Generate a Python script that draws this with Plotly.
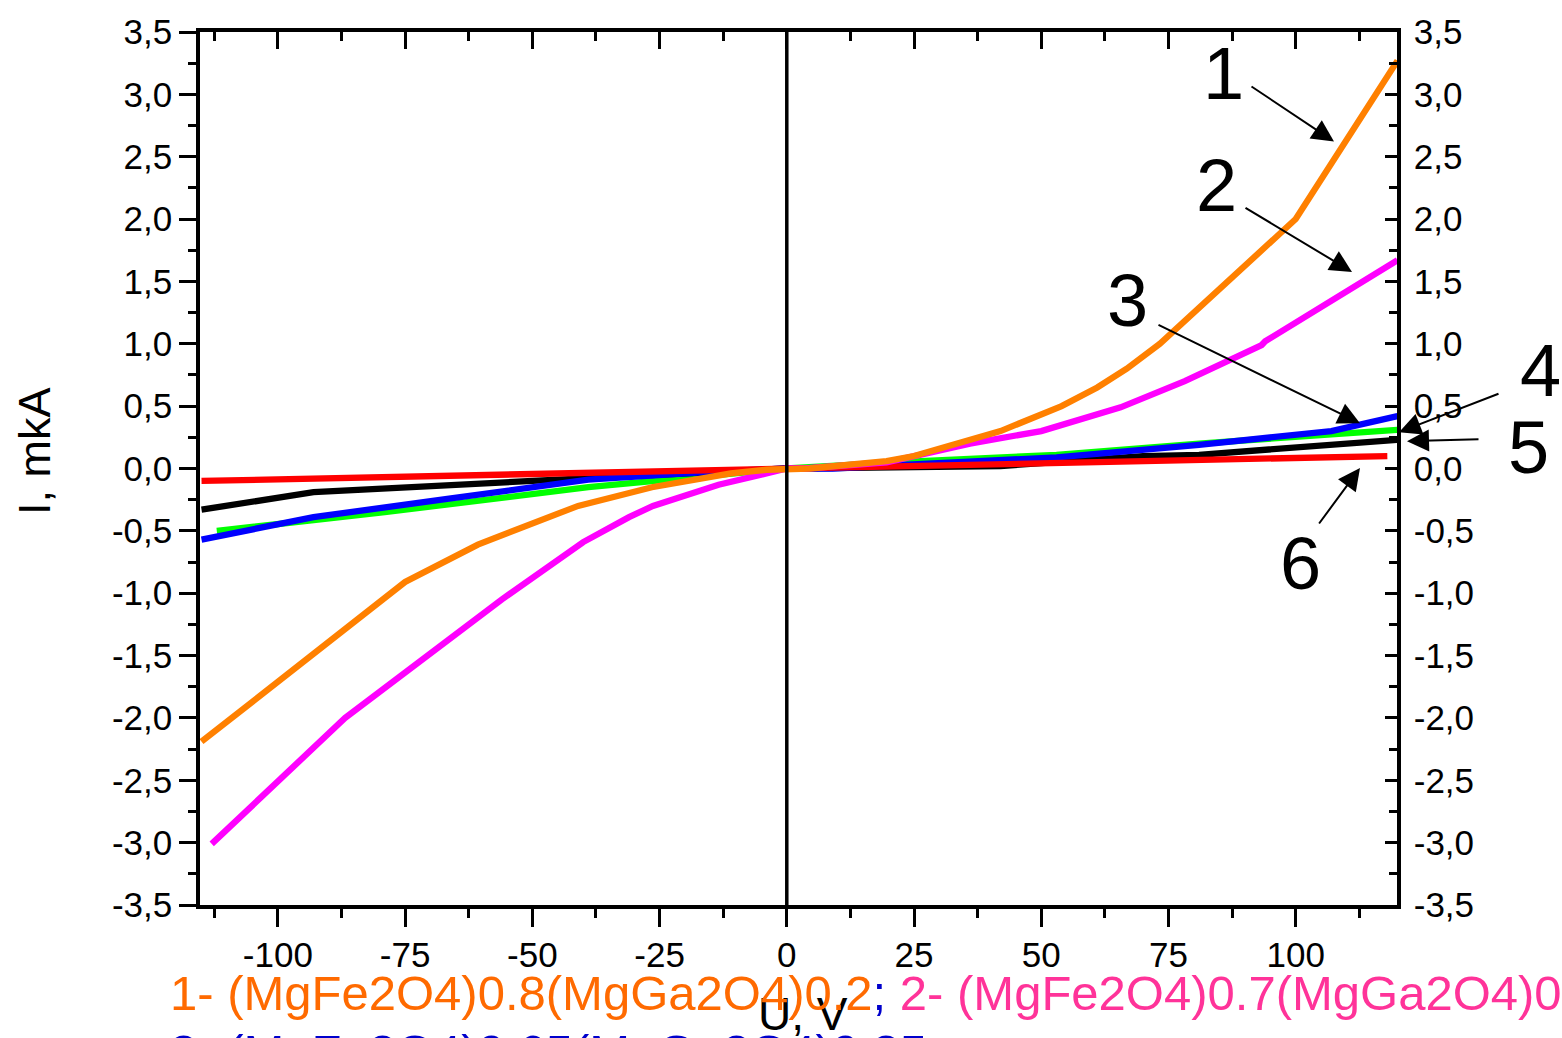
import plotly.graph_objects as go

# ---------------- data ----------------
u1 = [-115, -77.6, -75, -60.7, -41, -26.5, -11, -4, 0, 4.5, 19.6, 25, 42, 54, 61, 66.8, 73.3, 100, 120]
i1 = [-2.19, -1.0, -0.91, -0.61, -0.30, -0.15, -0.04, -0.01, 0, 0, 0.06, 0.10, 0.30, 0.50, 0.65, 0.80, 1.0, 2.0, 3.27]

u2 = [-113, -86.8, -56, -40, -31, -26.3, -13.4, -3, 0, 3.5, 19.6, 36, 50, 65.6, 78.2, 93.3, 94, 120]
i2 = [-3.01, -2.0, -1.05, -0.59, -0.39, -0.30, -0.13, -0.02, 0, 0, 0.05, 0.20, 0.30, 0.49, 0.70, 0.99, 1.02, 1.67]

u3 = [-115, -93, -66, -39, -16.7, 0, 9, 53, 81, 107, 120]
i3 = [-0.57, -0.39, -0.24, -0.09, -0.03, 0, 0, 0.09, 0.19, 0.30, 0.42]

u4 = [-112, -79, -39, -16.7, 0, 22, 42, 53, 81, 120]
i4 = [-0.50, -0.35, -0.15, -0.06, 0, 0.05, 0.09, 0.11, 0.20, 0.31]

u5 = [-115, -93, -50, 0, 42, 53, 70, 81, 120]
i5 = [-0.33, -0.19, -0.10, 0, 0.02, 0.05, 0.10, 0.11, 0.23]

u6 = [-115, 0, 42, 118]
i6 = [-0.10, 0, 0.03, 0.10]

x_tick_vals = [-100, -75, -50, -25, 0, 25, 50, 75, 100]
x_tick_text = ["-100", "-75", "-50", "-25", "0", "25", "50", "75", "100"]
x_minor_vals = [-112.5, -87.5, -62.5, -37.5, -12.5, 12.5, 37.5, 62.5, 87.5, 112.5]
y_tick_vals = [-3.5, -3.0, -2.5, -2.0, -1.5, -1.0, -0.5, 0.0, 0.5, 1.0, 1.5, 2.0, 2.5, 3.0, 3.5]
y_tick_text = ["-3,5", "-3,0", "-2,5", "-2,0", "-1,5", "-1,0", "-0,5", "0,0",
               "0,5", "1,0", "1,5", "2,0", "2,5", "3,0", "3,5"]
y_minor_vals = [-3.25, -2.75, -2.25, -1.75, -1.25, -0.75, -0.25, 0.25, 0.75, 1.25, 1.75, 2.25, 2.75, 3.25]

legend_line1 = [("1- (MgFe2O4)0.8(MgGa2O4)0.2", "#FF6A00"), ("; ", "#0000CC"),
                ("2- (MgFe2O4)0.7(MgGa2O4)0.3; ", "#FF3399")]
legend_line2 = "3- (MgFe2O4)0.65(MgGa2O4)0.35"

X_RANGE = [-115.3, 119.9]
Y_RANGE = [-3.5, 3.5]

# ---------------- layout geometry ----------------
W, H = 1562, 1038
L, R, T, B = 200, 165, 28, 133
PW, PH = W - L - R, H - T - B


def px(x, y):
    return (x - L) / PW, (H - B - y) / PH


FONT = "Arial, Liberation Sans, sans-serif"

fig = go.Figure()
series = [
    (u4, i4, "#00FF00"),
    (u5, i5, "#000000"),
    (u3, i3, "#0000FF"),
    (u6, i6, "#FF0000"),
    (u2, i2, "#FF00FF"),
    (u1, i1, "#FF8000"),
]
for u, i, c in series:
    fig.add_trace(go.Scatter(x=u, y=i, mode="lines", line=dict(color=c, width=6.3),
                             showlegend=False, hoverinfo="skip"))

# dummy trace to activate the mirrored axes
fig.add_trace(go.Scatter(x=[None], y=[None], xaxis="x2", yaxis="y2", showlegend=False))

fig.add_shape(type="line", xref="x", yref="paper", x0=0, x1=0, y0=0, y1=1,
              line=dict(color="black", width=3.5), layer="above")

axis_common = dict(showgrid=False, zeroline=False, linecolor="black", linewidth=3.5,
                   tickcolor="black", tickwidth=3)

fig.update_layout(
    width=W, height=H,
    margin=dict(l=L, r=R, t=T, b=B, pad=0),
    paper_bgcolor="white", plot_bgcolor="white",
    font=dict(family=FONT, color="black", size=35),
    xaxis=dict(range=X_RANGE, tickmode="array", tickvals=x_tick_vals, ticktext=x_tick_text,
               ticks="outside", ticklen=18, showline=True, ticklabelstandoff=-2,
               minor=dict(tickmode="array", tickvals=x_minor_vals, ticks="outside", ticklen=9,
                          tickwidth=3, tickcolor="black"),
               tickfont=dict(size=35), **axis_common),
    yaxis=dict(range=Y_RANGE, tickmode="array", tickvals=y_tick_vals, ticktext=y_tick_text,
               ticks="outside", ticklen=17, showline=True,
               minor=dict(tickmode="array", tickvals=y_minor_vals, ticks="outside", ticklen=8,
                          tickwidth=3, tickcolor="black"),
               tickfont=dict(size=35), **axis_common),
    xaxis2=dict(range=X_RANGE, overlaying="x", side="top", tickmode="array",
                tickvals=x_tick_vals, ticks="inside", ticklen=17, showticklabels=False,
                showline=True,
                minor=dict(tickmode="array", tickvals=x_minor_vals, ticks="inside", ticklen=9,
                           tickwidth=3, tickcolor="black"),
                **axis_common),
    yaxis2=dict(range=Y_RANGE, overlaying="y", side="right", anchor="x", tickmode="array",
                tickvals=y_tick_vals, ticktext=y_tick_text, ticks="inside", ticklen=12,
                showline=True, ticklabelstandoff=6,
                minor=dict(tickmode="array", tickvals=y_minor_vals, ticks="inside", ticklen=8,
                           tickwidth=3, tickcolor="black"),
                tickfont=dict(size=35), **axis_common),
)

annotations = []

# axis titles
x0, y0 = px(803, 1015)
annotations.append(dict(text="U, V", x=x0, y=y0, xref="paper", yref="paper", showarrow=False,
                        xanchor="center", yanchor="middle", font=dict(size=46, family=FONT)))
x0, y0 = px(34, 449)
annotations.append(dict(text="I, mkA", x=x0, y=y0, xref="paper", yref="paper", showarrow=False,
                        textangle=-90, xanchor="center", yanchor="middle",
                        font=dict(size=45, family=FONT)))

# curve numbers
labels = [("1", 1223, 70), ("2", 1216, 182), ("3", 1127, 298), ("4", 1540, 368),
          ("5", 1528, 445), ("6", 1300, 562)]
for t, lx, ly in labels:
    xx, yy = px(lx, ly)
    annotations.append(dict(text=t, x=xx, y=yy, xref="paper", yref="paper", showarrow=False,
                            xanchor="center", yanchor="middle", font=dict(size=74, family=FONT)))

# arrows (tail -> tip)
arrows = [((1250, 82), (1334, 138)), ((1244, 204), (1352, 269)), ((1157, 322), (1360, 421)),
          ((1500, 391), (1399, 430)), ((1480, 437), (1407, 439)), ((1318, 523), (1360, 466))]
for (tx, ty), (hx, hy) in arrows:
    xx, yy = px(hx, hy)
    annotations.append(dict(text="", x=xx, y=yy, xref="paper", yref="paper", showarrow=True,
                            ax=tx - hx, ay=ty - hy, axref="pixel", ayref="pixel",
                            arrowhead=2, arrowsize=2.2, arrowwidth=2, arrowcolor="black",
                            standoff=0, startstandoff=0))

# legend text lines
txt = "".join(f'<span style="color:{c}">{s}</span>' for s, c in legend_line1)
x0, y0 = px(168, 993)
annotations.append(dict(text=txt, x=x0, y=y0, xref="paper", yref="paper", showarrow=False,
                        xanchor="left", yanchor="middle", font=dict(size=49, family=FONT)))
x0, y0 = px(168, 1053)
annotations.append(dict(text=legend_line2, x=x0, y=y0, xref="paper", yref="paper",
                        showarrow=False, xanchor="left", yanchor="middle",
                        font=dict(size=49, family=FONT, color="#0000CC")))

fig.update_layout(annotations=annotations)

fig.write_html("out.html")
